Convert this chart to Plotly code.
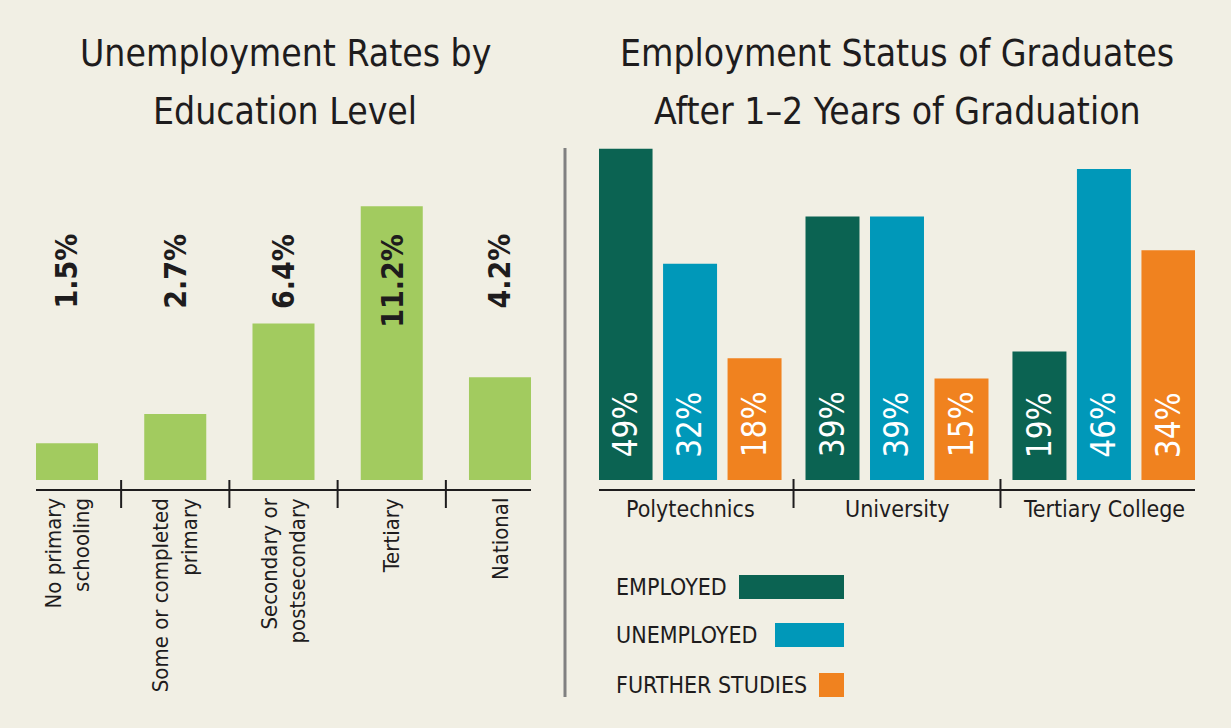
import plotly.graph_objects as go

# ---------------- data ----------------
edu_levels = ["No primary<br>schooling", "Some or completed<br>primary",
              "Secondary or<br>postsecondary", "Tertiary", "National"]
unemp_rates = [1.5, 2.7, 6.4, 11.2, 4.2]
unemp_labels = ["1.5%", "2.7%", "6.4%", "11.2%", "4.2%"]

institutions = ["Polytechnics", "University", "Tertiary College"]
status_names = ["EMPLOYED", "UNEMPLOYED", "FURTHER STUDIES"]
employed = [49, 39, 19]
unemployed = [32, 39, 46]
further = [18, 15, 34]
status_values = [employed, unemployed, further]

left_title = ["Unemployment Rates by", "Education Level"]
right_title = ["Employment Status of Graduates", "After 1\u20132 Years of Graduation"]

# ---------------- style ----------------
W, H = 1231, 728
BG = "#F1EFE4"
INK = "#1E1C1D"
GREEN = "#A2CB5F"
status_colors = ["#0B6352", "#0098B9", "#F0821F"]
FONT = "Liberation Sans Narrow, DejaVu Sans Condensed, sans-serif"


def px(x):
    return x / W


def py(y):
    return 1 - y / H


BARGAP = 0.065
BARGROUPGAP = 0.163

fig = go.Figure()

# left chart
fig.add_trace(go.Bar(
    x=list(range(len(unemp_rates))), y=unemp_rates, width=0.573,
    marker=dict(color=GREEN, line=dict(width=0)),
    xaxis="x", yaxis="y", showlegend=False, hoverinfo="skip"))

# right chart
for name, vals, col in zip(status_names, status_values, status_colors):
    fig.add_trace(go.Bar(
        x=list(range(len(institutions))), y=vals, name=name,
        marker=dict(color=col, line=dict(width=0)),
        xaxis="x2", yaxis="y2", showlegend=False, hoverinfo="skip"))

annotations = []
shapes = []

# titles (one annotation per line)
for lines, cx in [(left_title, 285), (right_title, 897)]:
    for line, cy in zip(lines, [54, 111]):
        annotations.append(dict(
            text=line, x=px(cx), y=py(cy), xref="paper", yref="paper",
            xanchor="center", yanchor="middle", showarrow=False,
            font=dict(family=FONT, size=37, color=INK)))

# left value labels (fixed height)
for i, lab in enumerate(unemp_labels):
    annotations.append(dict(
        text="<b>" + lab + "</b>", x=i, y=10.14, xref="x", yref="y",
        xanchor="center", yanchor="top", textangle=-90, showarrow=False,
        font=dict(family=FONT, size=30, color=INK)))

# left category labels
for i, lab in enumerate(edu_levels):
    annotations.append(dict(
        text=lab, x=i, y=py(496), xref="x", yref="paper",
        xanchor="center", yanchor="top", textangle=-90, align="right",
        showarrow=False, font=dict(family=FONT, size=22, color=INK)))

# right value labels inside bars
slot = (1 - BARGAP) / 3
for k, vals in enumerate(status_values):
    for g, v in enumerate(vals):
        annotations.append(dict(
            text=f"{v}%", x=g + (k - 1) * slot, y=3.0, xref="x2", yref="y2",
            xanchor="center", yanchor="bottom", textangle=-90, showarrow=False,
            font=dict(family=FONT, size=33, color="white")))

# right category labels
for g, lab in enumerate(institutions):
    annotations.append(dict(
        text=lab, x=g, y=py(494), xref="x2", yref="paper",
        xanchor="center", yanchor="top", showarrow=False,
        font=dict(family=FONT, size=23, color=INK)))

# category dividers on both axes
for i in range(len(edu_levels) - 1):
    shapes.append(dict(type="line", xref="x", yref="paper", x0=i + 0.5, x1=i + 0.5,
                       y0=py(508), y1=py(480), line=dict(color=INK, width=2)))
for g in range(len(institutions) - 1):
    shapes.append(dict(type="line", xref="x2", yref="paper", x0=g + 0.5, x1=g + 0.5,
                       y0=py(508), y1=py(479), line=dict(color=INK, width=2)))

# panel divider
shapes.append(dict(type="line", xref="paper", yref="paper", x0=px(565), x1=px(565),
                   y0=py(148), y1=py(697), line=dict(color="#808080", width=3)))

# custom legend
legend_rows = [(587, 739), (635, 775), (685, 819)]
for (cy, sx), name, col in zip(legend_rows, status_names, status_colors):
    annotations.append(dict(
        text=name, x=px(614), y=py(cy), xref="paper", yref="paper",
        xanchor="left", yanchor="middle", showarrow=False,
        font=dict(family=FONT, size=23, color=INK)))
    shapes.append(dict(type="rect", xref="paper", yref="paper",
                       x0=px(sx), x1=px(844), y0=py(cy - 12), y1=py(cy + 12),
                       fillcolor=col, line=dict(width=0)))

axis_common = dict(showgrid=False, zeroline=False, fixedrange=True)

fig.update_layout(
    width=W, height=H,
    margin=dict(l=0, r=0, t=0, b=0),
    paper_bgcolor=BG, plot_bgcolor=BG,
    barmode="group", bargap=BARGAP, bargroupgap=BARGROUPGAP,
    font=dict(family=FONT, color=INK),
    xaxis=dict(domain=[px(36), px(531)], range=[-0.2864, 4.2864], anchor="y",
               showline=True, linecolor=INK, linewidth=2, showticklabels=False,
               ticks="", **axis_common),
    yaxis=dict(domain=[py(489), py(150)], range=[-0.368, 13.497], anchor="x",
               visible=False, **axis_common),
    xaxis2=dict(domain=[px(599), px(1195)], range=[-0.44, 2.44], anchor="y2",
                showline=True, linecolor=INK, linewidth=2, showticklabels=False,
                ticks="", **axis_common),
    yaxis2=dict(domain=[py(489), py(140)], range=[-1.331, 50.30], anchor="x2",
                visible=False, **axis_common),
    annotations=annotations,
    shapes=shapes,
)

fig.write_html(
    "out.html",
    config={"displayModeBar": False},
    post_script="document.body.style.margin='0';document.body.style.background='" + BG + "';",
)
